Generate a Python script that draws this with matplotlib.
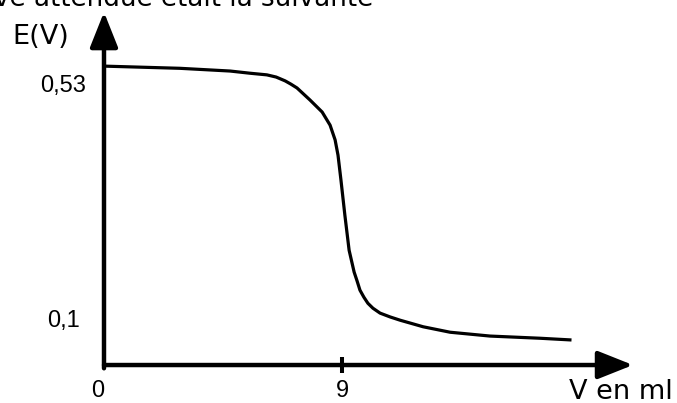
import matplotlib

matplotlib.use("Agg")
import matplotlib.pyplot as plt

# courbe de dosage
volume_ml = [0, 2.87, 4.77, 5.52, 6.16, 6.51, 6.85, 7.07, 7.30, 7.79, 8.02, 8.25, 8.55, 8.74,
             8.85, 8.96, 9.11, 9.27, 9.46, 9.57, 9.68, 9.83, 9.98, 10.17, 10.44, 10.82,
             11.20, 12.07, 13.09, 14.60, 16.49, 17.62]
potential_v = [0.547, 0.543, 0.538, 0.534, 0.531, 0.527, 0.520, 0.514, 0.507, 0.485, 0.474,
               0.463, 0.439, 0.412, 0.384, 0.339, 0.274, 0.210, 0.170, 0.154, 0.137, 0.124,
               0.113, 0.104, 0.095, 0.088, 0.082, 0.070, 0.060, 0.053, 0.049, 0.046]

x_ticks = [9]
x_tick_labels = ["9"]
x_origin = [0]
x_origin_labels = ["0"]
y_ticks = [0.53, 0.1]
y_tick_labels = ["0,53", "0,1"]

title_text = "ve attendue était la suivante"
y_label = "E(V)"
x_label = "V en ml"


def main() -> None:
    fig = plt.figure(figsize=(6.77, 4.03), dpi=100)
    ax = fig.add_axes([0, 0, 1, 1])
    ax.set_xlim(-3.933, 21.67)
    ax.set_ylim(-0.0695, 0.668)

    ax.plot(volume_ml, potential_v, color="black", lw=2.3, solid_joinstyle="round")

    for side in ["top", "right", "bottom", "left"]:
        ax.spines[side].set_visible(False)
    ax.spines["bottom"].set_position(("data", 0))
    ax.spines["left"].set_position(("data", 0))

    # axes fléchés
    arrow = dict(arrowstyle="-|>,head_length=21.6,head_width=8.6", mutation_scale=1,
                 color="black", lw=3.2, shrinkA=0, shrinkB=0)
    ax.annotate("", xy=(0, 0.97), xycoords=("data", "axes fraction"),
                xytext=(0, -0.006), textcoords="data", arrowprops=arrow)
    ax.annotate("", xy=(0.935, 0), xycoords=("axes fraction", "data"),
                xytext=(0, 0), textcoords="data", arrowprops=arrow)

    ax.set_xticks(x_ticks, x_tick_labels)
    ax.set_xticks(x_origin, x_origin_labels, minor=True)
    ax.tick_params(axis="x", which="major", direction="inout", length=11.5, width=2.9,
                   pad=5, labelsize=17, labelfontfamily="Liberation Sans")
    ax.tick_params(axis="x", which="minor", direction="inout", length=11.5, color="none",
                   pad=5, labelsize=17, labelfontfamily="Liberation Sans")
    plt.setp(ax.get_xminorticklabels(), ha="right")

    ax.set_yticks(y_ticks, y_tick_labels)
    ax.tick_params(axis="y", length=0, pad=29.5, labelsize=17, labelfontfamily="Liberation Sans")
    plt.setp(ax.get_yticklabels(), ha="center", va="top")

    fig.text(373 / 677, 1 - 6 / 403, title_text, ha="right", va="baseline", fontsize=18.8)
    fig.text(41 / 677, 1 - 37 / 403, y_label, ha="center", va="center", fontsize=19.5)
    fig.text(621 / 677, 4 / 403, x_label, ha="center", va="baseline", fontsize=19.5)

    fig.savefig("out.png", dpi=100)


if __name__ == "__main__":
    main()
